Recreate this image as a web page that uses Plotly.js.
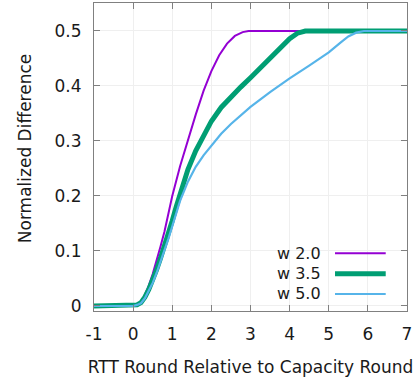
<!DOCTYPE html>
<html>
<head>
<meta charset="utf-8">
<script src="https://cdn.plot.ly/plotly-3.0.1.min.js"></script>
<style>
  html, body { margin: 0; padding: 0; background: #ffffff; }
  #chart { width: 413px; height: 380px; }
</style>
</head>
<body>
<div id="chart"></div>
<script>
// ---- data ----
const seriesNames = ["w 2.0", "w 3.5", "w 5.0"];

const xW20 = [-1, 0, 0.1, 0.2, 0.3, 0.4, 0.5, 0.6, 0.7, 0.8, 0.9, 1.0, 1.2, 1.4, 1.6, 1.8, 2.0, 2.2, 2.4, 2.6, 2.8, 2.95, 7];
const yW20 = [0, 0, 0.002, 0.008, 0.02, 0.037, 0.058, 0.082, 0.108, 0.135, 0.165, 0.2, 0.254, 0.302, 0.348, 0.391, 0.427, 0.456, 0.477, 0.491, 0.498, 0.5, 0.5];

const xW35 = [-1, 0, 0.1, 0.2, 0.3, 0.4, 0.5, 0.6, 0.7, 0.8, 0.9, 1.0, 1.1, 1.2, 1.4, 1.6, 1.8, 2.0, 2.25, 2.5, 2.75, 3.0, 3.25, 3.5, 3.75, 4.0, 4.2, 4.4, 7];
const yW35 = [0, 0, 0.002, 0.006, 0.016, 0.03, 0.046, 0.066, 0.087, 0.108, 0.13, 0.155, 0.18, 0.205, 0.248, 0.282, 0.311, 0.336, 0.361, 0.381, 0.398, 0.415, 0.432, 0.45, 0.469, 0.486, 0.496, 0.5, 0.5];

const xW50 = [-1, 0, 0.1, 0.2, 0.3, 0.4, 0.5, 0.6, 0.7, 0.8, 0.9, 1.0, 1.1, 1.2, 1.4, 1.6, 1.8, 2.0, 2.25, 2.5, 2.75, 3.0, 3.5, 4.0, 4.5, 5.0, 5.3, 5.5, 5.7, 5.9, 7];
const yW50 = [0, 0, 0.002, 0.005, 0.014, 0.027, 0.042, 0.06, 0.08, 0.1, 0.122, 0.145, 0.169, 0.191, 0.226, 0.253, 0.274, 0.292, 0.313, 0.331, 0.347, 0.362, 0.389, 0.414, 0.437, 0.461, 0.479, 0.49, 0.497, 0.5, 0.5];

const xTickVals = [-1, 0, 1, 2, 3, 4, 5, 6, 7];
const xTickText = ["-1", "0", "1", "2", "3", "4", "5", "6", "7"];
const yTickVals = [0, 0.1, 0.2, 0.3, 0.4, 0.5];
const yTickText = ["0", "0.1", "0.2", "0.3", "0.4", "0.5"];

// ---- styles ----
const colors = ["#9400d3", "#009e73", "#56b4e9"];
const widths = [2, 5, 2.2];
const xs = [xW20, xW35, xW50];
const ys = [yW20, yW35, yW50];

const FONT = "DejaVu Sans, sans-serif";
const TXT = "#1a1a1a";

const traces = seriesNames.map((n, i) => ({
  type: "scatter", mode: "lines", name: n,
  x: xs[i], y: ys[i],
  line: { color: colors[i], width: widths[i] },
  showlegend: false, hoverinfo: "skip"
}));

// manual gnuplot-style key: text on the left, sample line on the right
const keyRowsY = [0.1873, 0.1211, 0.0552];
const annotations = seriesNames.map((n, i) => ({
  xref: "paper", yref: "paper", x: 0.7316, y: keyRowsY[i],
  xanchor: "right", yanchor: "middle", showarrow: false,
  text: n, font: { family: FONT, size: 16, color: TXT }
}));
annotations.push({
  xref: "paper", yref: "paper", x: -0.222, y: 0.527,
  xanchor: "center", yanchor: "middle", showarrow: false, textangle: -90,
  text: "Normalized Difference", font: { family: FONT, size: 17, color: TXT }
});
const shapes = seriesNames.map((n, i) => ({
  type: "line", xref: "paper", yref: "paper",
  x0: 0.77, x1: 0.932, y0: keyRowsY[i], y1: keyRowsY[i],
  line: { color: colors[i], width: widths[i] }
}));

const axisCommon = {
  showline: true, linecolor: "#808080", linewidth: 1, mirror: "ticks",
  ticks: "inside", ticklen: 6, tickcolor: "#808080", tickwidth: 1,
  showgrid: true, gridcolor: "#efefef", gridwidth: 1,
  zeroline: false, tickmode: "array",
  tickfont: { family: FONT, size: 17, color: TXT },
  ticklabelstandoff: 8
};

const layout = {
  width: 413, height: 380,
  margin: { l: 94, r: 6, t: 3, b: 69, pad: 0 },
  paper_bgcolor: "#ffffff", plot_bgcolor: "#ffffff",
  showlegend: false,
  xaxis: Object.assign({}, axisCommon, {
    range: [-1, 7], tickvals: xTickVals, ticktext: xTickText,
    title: { text: "RTT Round Relative to Capacity Round", font: { family: FONT, size: 17, color: TXT }, standoff: 17 }
  }),
  yaxis: Object.assign({}, axisCommon, {
    range: [-0.0091, 0.5509], tickvals: yTickVals, ticktext: yTickText
  }),
  annotations: annotations,
  shapes: shapes
};

Plotly.newPlot("chart", traces, layout, { displayModeBar: false, staticPlot: true });
</script>
</body>
</html>
